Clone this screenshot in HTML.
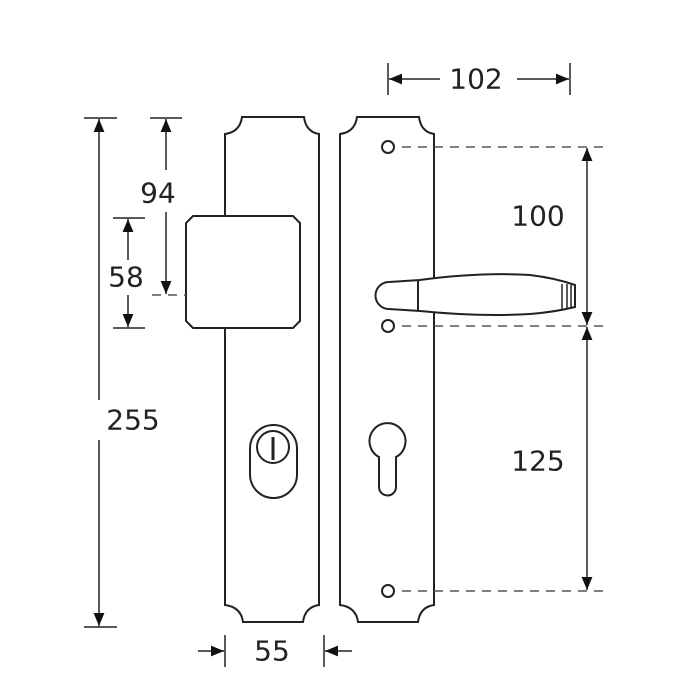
<!DOCTYPE html><html><head><style>body{margin:0;background:#fff}svg{display:block}text{font-family:"DejaVu Sans","Liberation Sans",sans-serif;font-size:28px;fill:#222}</style></head><body>
<svg width="700" height="700" viewBox="0 0 700 700">
<defs><marker id="a" viewBox="0 0 12 12" refX="12" refY="6" markerWidth="13" markerHeight="13" orient="auto-start-reverse" markerUnits="userSpaceOnUse"><path d="M0,1 L12,6 L0,11z" fill="#111"/></marker></defs>
<g fill="none" stroke="#222" stroke-width="2">
<path d="M242,117 L304,117 Q306,132 319,134 L319,605 Q305,607 303,622 L243,622 Q241,607 225,605 L225,134 Q240,132 242,117Z"/>
<path d="M357,117 L419,117 Q421,132 434,134 L434,605 Q420,607 418,622 L358,622 Q356,607 340,605 L340,134 Q355,132 357,117Z"/>
<path d="M193,216 L293,216 L300,223 L300,321 L293,328 L193,328 L186,321 L186,223Z" fill="#fff"/>
<rect x="250" y="425" width="47" height="73" rx="23.5"/>
<circle cx="273" cy="447" r="16"/>
<line x1="273" y1="437" x2="273" y2="460" stroke-width="3"/>
<path d="M379,457 A18,18 0 1 1 396,457 L396,487 A8.5,8.5 0 0 1 379,487Z"/>
<circle cx="388" cy="147" r="6"/><circle cx="388" cy="326" r="6"/><circle cx="388" cy="591" r="6"/>
<path d="M389,282 L420,280 Q480,272 530,275 Q555,278 575,285 L575,307 Q555,312 530,314 Q480,317 420,311 L389,309 A13.5,13.5 0 0 1 389,282Z" fill="#fff"/>
<line x1="418" y1="280" x2="418" y2="311"/>
<line x1="562" y1="284" x2="562" y2="309" stroke-width="1.5"/><line x1="567" y1="284" x2="567" y2="308" stroke-width="1.5"/><line x1="571" y1="285" x2="571" y2="307" stroke-width="1.5"/>
</g>
<g stroke="#222" stroke-width="1.5" fill="none">
<g stroke-dasharray="9,7" stroke="#555"><line x1="402" y1="147" x2="605" y2="147"/><line x1="402" y1="326" x2="605" y2="326"/><line x1="402" y1="591" x2="605" y2="591"/><line x1="152" y1="295" x2="186" y2="295"/></g>
<line x1="388" y1="63" x2="388" y2="95"/><line x1="570" y1="63" x2="570" y2="95"/>
<line x1="440" y1="79" x2="389" y2="79" marker-end="url(#a)"/><line x1="517" y1="79" x2="569" y2="79" marker-end="url(#a)"/>
<line x1="587" y1="200" x2="587" y2="148" marker-end="url(#a)"/><line x1="587" y1="240" x2="587" y2="325" marker-end="url(#a)"/>
<line x1="587" y1="410" x2="587" y2="327" marker-end="url(#a)"/><line x1="587" y1="490" x2="587" y2="590" marker-end="url(#a)"/>
<line x1="587" y1="200" x2="587" y2="240"/><line x1="587" y1="410" x2="587" y2="490"/>
<line x1="84" y1="118" x2="117" y2="118"/><line x1="84" y1="627" x2="117" y2="627"/>
<line x1="99" y1="400" x2="99" y2="119" marker-end="url(#a)"/><line x1="99" y1="440" x2="99" y2="626" marker-end="url(#a)"/>
<line x1="150" y1="118" x2="182" y2="118"/>
<line x1="166" y1="170" x2="166" y2="119" marker-end="url(#a)"/><line x1="166" y1="212" x2="166" y2="294" marker-end="url(#a)"/>
<line x1="113" y1="218" x2="145" y2="218"/><line x1="113" y1="328" x2="145" y2="328"/>
<line x1="128" y1="260" x2="128" y2="219" marker-end="url(#a)"/><line x1="128" y1="295" x2="128" y2="327" marker-end="url(#a)"/>
<line x1="225" y1="635" x2="225" y2="667"/><line x1="324" y1="635" x2="324" y2="667"/>
<line x1="198" y1="651" x2="224" y2="651" marker-end="url(#a)"/><line x1="352" y1="651" x2="325" y2="651" marker-end="url(#a)"/>
</g>
<g text-anchor="middle" dominant-baseline="central">
<text x="476" y="79">102</text><text x="538" y="216">100</text><text x="538" y="461">125</text>
<text x="133" y="420">255</text><text x="158" y="193">94</text><text x="126" y="277">58</text><text x="272" y="651">55</text>
</g>
</svg></body></html>
